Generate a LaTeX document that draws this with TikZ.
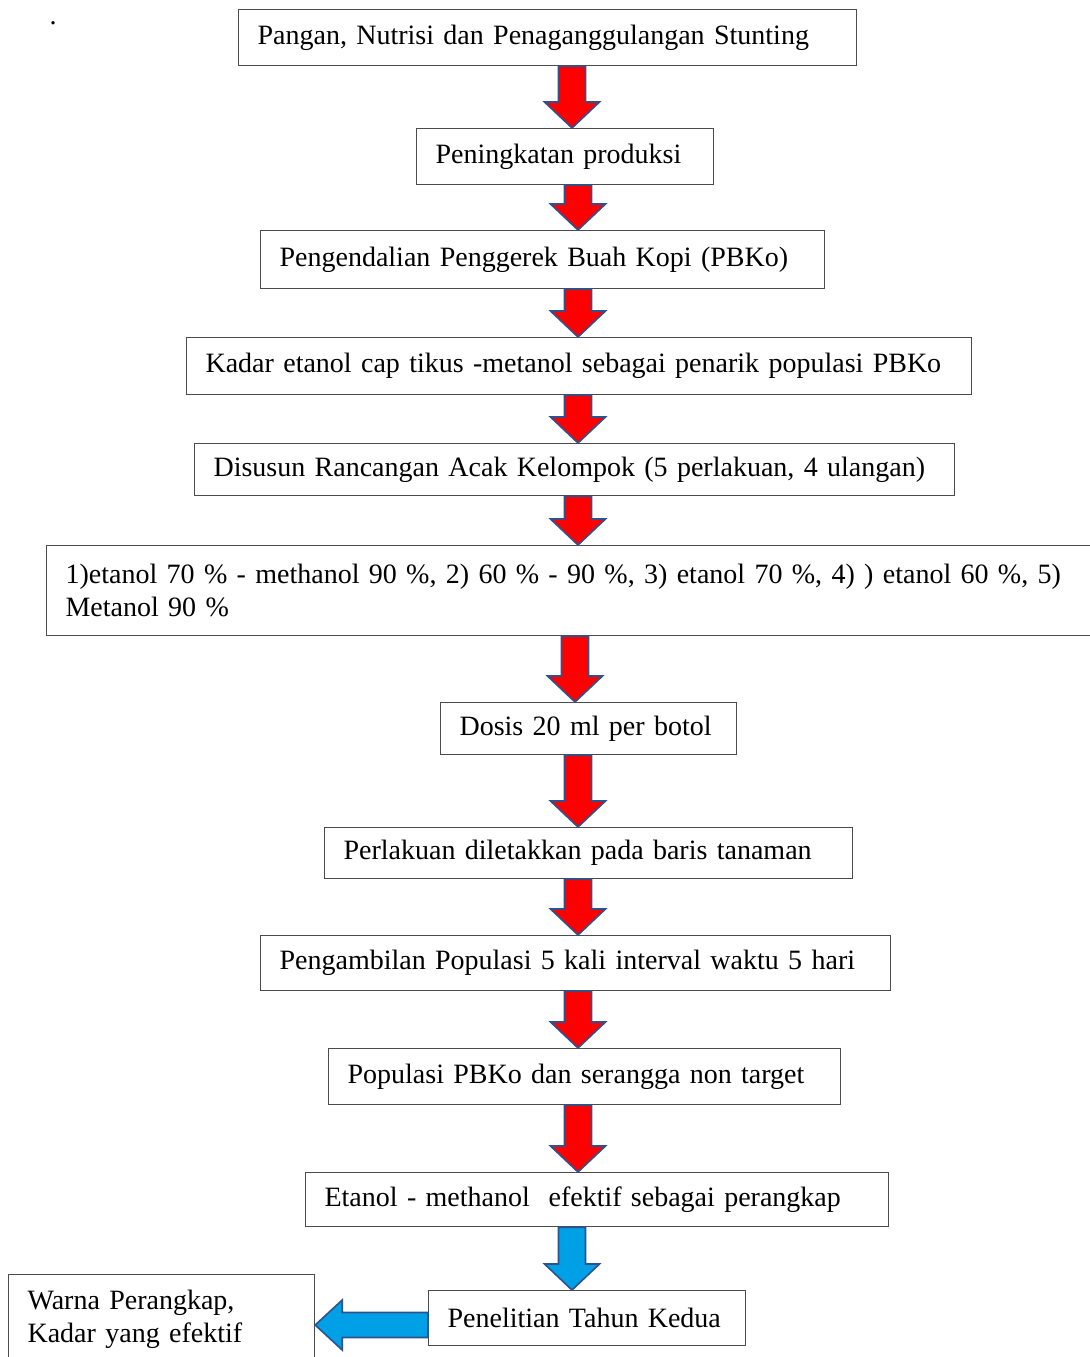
\documentclass[tikz,border=0pt]{standalone}
\usepackage{fontspec}
\setmainfont{Liberation Serif}
\usepackage{xcolor}
\usepackage{tikz}
\usetikzlibrary{calc}

\definecolor{arrowline}{RGB}{47,82,143}
\definecolor{arrowred}{RGB}{255,0,0}
\definecolor{arrowblue}{RGB}{0,160,230}

% block arrow down between two boxes, at x (px)
\newcommand\flowarrow[4]{%
	\path[draw=arrowline, fill=#4, line width=0.8pt]
	let \p1=(#1.south), \p2=(#2.north), \p3=(#3,0) in
	(\x3-6.75pt,\y1) -- (\x3+6.75pt,\y1) -- (\x3+6.75pt,\y2+13pt) -- (\x3+13.75pt,\y2+13pt)
	-- (\x3,\y2) -- (\x3-13.75pt,\y2+13pt) -- (\x3-6.75pt,\y2+13pt) -- cycle;}
% block arrow pointing left, at y (px)
\newcommand\flowarrowleft[4]{%
	\path[draw=arrowline, fill=#4, line width=0.8pt]
	let \p1=(#1.west), \p2=(#2.east), \p3=(0,#3) in
	(\x1,\y3-6.25pt) -- (\x1,\y3+6.25pt) -- (\x2+13.5pt,\y3+6.25pt) -- (\x2+13.5pt,\y3+12.5pt)
	-- (\x2,\y3) -- (\x2+13.5pt,\y3-12.5pt) -- (\x2+13.5pt,\y3-6.25pt) -- cycle;}

\begin{document}
\begin{tikzpicture}[x=0.5pt, y=-0.5pt, font=\fontsize{14}{16.5}\selectfont,
	flowbox/.style={draw=black!70, line width=0.6pt, anchor=north west, align=left,
		inner xsep=9.5pt, inner ysep=0pt}]
	\useasboundingbox (0,0) rectangle (1089,1357);
	\node[inner sep=0pt, anchor=base] (dot) at (53,24) {.};
	\foreach \x/\y/\w/\h/\t [count=\q from 1, evaluate=\w as \tw using \w/2-19,
		evaluate=\h as \hh using \h/2] in {
		238/9/618/56/{Pangan, Nutrisi dan Penaganggulangan Stunting},
		416/128/297/56/{Peningkatan produksi},
		260/230/564/58/{Pengendalian Penggerek Buah Kopi (PBKo)},
		186/337/785/57/{Kadar etanol cap tikus -metanol sebagai penarik populasi PBKo},
		194/443/760/52/{Disusun Rancangan Acak Kelompok (5 perlakuan, 4 ulangan)},
		46/545/1090/90/{1)etanol 70 \% - methanol 90 \%, 2) 60 \% - 90 \%, 3) etanol 70 \%, 4) ) etanol 60 \%, 5)\\Metanol 90 \%},
		440/702/296/52/{Dosis 20 ml per botol},
		324/827/528/51/{Perlakuan diletakkan pada baris tanaman},
		260/935/630/55/{Pengambilan Populasi 5 kali interval waktu 5 hari},
		328/1048/512/56/{Populasi PBKo dan serangga non target},
		305/1172/583/54/{Etanol - methanol \ efektif sebagai perangkap},
		428/1290/317/55/{Penelitian Tahun Kedua},
		8/1274/306/90/{Warna Perangkap,\\Kadar yang efektif}}{
		\node[flowbox, text width=\tw pt, minimum height=\hh pt] (b\q) at (\x,\y) {\t};
	}
	% red arrows
	\foreach \a/\xa [evaluate=\a as \b using int(\a+1)] in
		{1/572,2/578,3/578,4/578,5/578,6/575,7/578,8/578,9/578,10/578}{
		\flowarrow{b\a}{b\b}{\xa}{arrowred}
	}
	% blue arrows
	\flowarrow{b11}{b12}{572}{arrowblue}
	\flowarrowleft{b12}{b13}{1325}{arrowblue}
\end{tikzpicture}
\end{document}
